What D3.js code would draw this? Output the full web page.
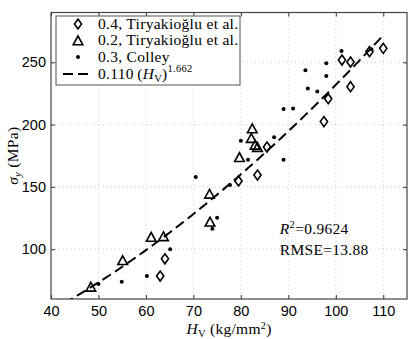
<!DOCTYPE html>
<html>
<head>
<style>
body {margin: 0; background: #fff;}
svg text {font-family: "Liberation Sans", Arial, sans-serif;}
.serif {font-family: "Liberation Serif", "DejaVu Serif", serif;}
</style>
<script src="https://cdnjs.cloudflare.com/ajax/libs/d3/7.8.5/d3.min.js"></script>
</head>
<body>
<div id="chart"></div>
<script>
// 0.4, Tiryakioglu et al. (diamonds)
const diamondHV = [63, 64, 79.5, 83.5, 85.5, 97.5, 98.4, 101.3, 103.1, 103.1, 107.1, 110];
const diamondSy = [78.4, 92.3, 154.8, 159.5, 182, 202.4, 220.8, 251.8, 250.2, 230.4, 258.6, 261.2];
// 0.2, Tiryakioglu et al. (triangles)
const triHV = [48.4, 55.1, 61.1, 63.7, 73.4, 73.5, 79.7, 82.4, 82.2, 83, 83.5];
const triSy = [69.4, 90.7, 109.4, 109.9, 144, 121.6, 173.4, 196.5, 188.8, 183.4, 181.6];
// 0.3, Colley (dots)
const dotHV = [50, 54.9, 60.2, 65.1, 70.5, 74, 75, 77.7, 80, 81.5, 87, 89, 89, 91, 93.6, 94.1, 96.1, 98, 98, 101.2, 107.5];
const dotSy = [72, 73.9, 78.4, 100, 157.9, 116.3, 125.2, 151.5, 187, 171.7, 189.8, 171.7, 212.6, 213, 243.7, 229, 226.6, 249.3, 239, 259, 260.5];
// fit 0.110*(HV)^1.662
const fitA = 0.110, fitB = 1.662;
const fitRange = [40, 110];

const xTicks = [40, 50, 60, 70, 80, 90, 100, 110];
const yTicks = [100, 150, 200, 250];

const W = 415, H = 339;
const margin = {top: 12.5, right: 8, bottom: 40, left: 51};
const width = W - margin.left - margin.right;
const height = H - margin.top - margin.bottom;

const svg = d3.select("#chart").append("svg")
    .attr("width", W).attr("height", H);

svg.append("defs").append("clipPath").attr("id", "clip")
    .append("rect").attr("width", width).attr("height", height);

const g = svg.append("g").attr("transform", `translate(${margin.left},${margin.top})`);

const x = d3.scaleLinear().domain([40, 115]).range([0, width]);
const y = d3.scaleLinear().domain([60, 290]).range([height, 0]);

// grid
g.append("g").selectAll("line").data(xTicks.filter(d => d > 40)).join("line")
    .attr("x1", d => x(d)).attr("x2", d => x(d)).attr("y1", 0).attr("y2", height)
    .attr("stroke", "#bbb").attr("stroke-width", 0.8).attr("stroke-dasharray", "1,3");
g.append("g").selectAll("line").data(yTicks).join("line")
    .attr("y1", d => y(d)).attr("y2", d => y(d)).attr("x1", 0).attr("x2", width)
    .attr("stroke", "#bbb").attr("stroke-width", 0.8).attr("stroke-dasharray", "1,3");

// axes: MATLAB style, inward ticks on all sides
const xAxis = g.append("g").attr("transform", `translate(0,${height})`)
    .call(d3.axisBottom(x).tickValues(xTicks).tickSizeInner(-4).tickSizeOuter(0).tickPadding(7));
const yAxis = g.append("g")
    .call(d3.axisLeft(y).tickValues(yTicks).tickSizeInner(-4).tickSizeOuter(0).tickPadding(5));
const xTop = g.append("g")
    .call(d3.axisTop(x).tickValues(xTicks).tickSizeInner(-4).tickSizeOuter(0).tickFormat(""));
const yRight = g.append("g").attr("transform", `translate(${width},0)`)
    .call(d3.axisRight(y).tickValues(yTicks).tickSizeInner(-4).tickSizeOuter(0).tickFormat(""));
[xAxis, yAxis, xTop, yRight].forEach(a => {
    a.select(".domain").remove();
    a.selectAll(".tick line").attr("stroke", "#333");
    a.selectAll("text").attr("font-size", 14.5).attr("fill", "#000");
});
g.append("rect").attr("width", width).attr("height", height)
    .attr("fill", "none").attr("stroke", "#444").attr("stroke-width", 1.2);

// fit line
const fitData = d3.range(fitRange[0], fitRange[1] + 0.01, 0.5);
g.append("path").datum(fitData)
    .attr("clip-path", "url(#clip)")
    .attr("fill", "none").attr("stroke", "#000").attr("stroke-width", 2)
    .attr("stroke-dasharray", "10,5")
    .attr("d", d3.line().x(d => x(d)).y(d => y(fitA * Math.pow(d, fitB))));

const diamondPath = "M0,-5L3.6,0L0,5L-3.6,0Z";
const triPath = "M0,-5L4.8,3.8L-4.8,3.8Z";

g.append("g").selectAll("path").data(diamondHV).join("path")
    .attr("transform", (d, i) => `translate(${x(d)},${y(diamondSy[i])})`)
    .attr("d", diamondPath).attr("fill", "none").attr("stroke", "#000").attr("stroke-width", 1.6);
g.append("g").selectAll("path").data(triHV).join("path")
    .attr("transform", (d, i) => `translate(${x(d)},${y(triSy[i])})`)
    .attr("d", triPath).attr("fill", "none").attr("stroke", "#000").attr("stroke-width", 1.6);
g.append("g").selectAll("circle").data(dotHV).join("circle")
    .attr("cx", d => x(d)).attr("cy", (d, i) => y(dotSy[i])).attr("r", 2).attr("fill", "#000");

// legend
const leg = svg.append("g").attr("transform", "translate(56,16)");
leg.append("rect").attr("width", 184).attr("height", 69)
    .attr("fill", "#fff").attr("stroke", "#555").attr("stroke-width", 1);
const rowY = [8, 24, 41, 58];
const items = [
    {type: "diamond", label: "0.4, Tiryakioğlu et al."},
    {type: "tri", label: "0.2, Tiryakioğlu et al."},
    {type: "dot", label: "0.3, Colley"},
    {type: "line", label: ""}
];
items.forEach((it, i) => {
    const row = leg.append("g").attr("transform", `translate(0,${rowY[i]})`);
    if (it.type === "diamond") row.append("path").attr("transform", "translate(22,0)").attr("d", diamondPath)
        .attr("fill", "none").attr("stroke", "#000").attr("stroke-width", 1.6);
    if (it.type === "tri") row.append("path").attr("transform", "translate(22,1)").attr("d", triPath)
        .attr("fill", "none").attr("stroke", "#000").attr("stroke-width", 1.6);
    if (it.type === "dot") row.append("circle").attr("cx", 22).attr("r", 2).attr("fill", "#000");
    if (it.type === "line") row.append("line").attr("x1", 7).attr("x2", 33)
        .attr("stroke", "#000").attr("stroke-width", 2).attr("stroke-dasharray", "10,5");
    const t = row.append("text").attr("class", "serif").attr("x", 42).attr("y", 5)
        .attr("font-size", 15.5).attr("letter-spacing", 0.3);
    if (it.type === "line") {
        t.append("tspan").text("0.110\u2009(");
        t.append("tspan").attr("font-style", "italic").text("H");
        t.append("tspan").attr("font-size", 10.5).attr("dy", 3).text("V");
        t.append("tspan").attr("dy", -3).text(")");
        t.append("tspan").attr("font-size", 10.5).attr("dy", -7).text("1.662");
    } else {
        t.text(it.label);
    }
});

// stats
const st = g.append("text").attr("class", "serif").attr("x", x(88.2)).attr("y", y(100) - 15)
    .attr("font-size", 15.5).attr("letter-spacing", 0.3);
st.append("tspan").attr("font-style", "italic").text("R");
st.append("tspan").attr("font-size", 10.5).attr("dy", -6).text("2");
st.append("tspan").attr("dy", 6).text("=0.9624");
g.append("text").attr("class", "serif").attr("x", x(88.2)).attr("y", y(100) + 6)
    .attr("font-size", 15.5).attr("letter-spacing", 0.3).text("RMSE=13.88");

// axis labels
const xl = svg.append("text").attr("class", "serif").attr("x", 229).attr("y", 334)
    .attr("text-anchor", "middle").attr("font-size", 15.5).attr("letter-spacing", 0.3);
xl.append("tspan").attr("font-style", "italic").text("H");
xl.append("tspan").attr("font-size", 10.5).attr("dy", 3).text("V");
xl.append("tspan").attr("dy", -3).text(" (kg/mm");
xl.append("tspan").attr("font-size", 10).attr("dy", -5).text("2");
xl.append("tspan").attr("dy", 5).text(")");

const yl = svg.append("text").attr("class", "serif")
    .attr("transform", `translate(18,${margin.top + height / 2}) rotate(-90)`)
    .attr("text-anchor", "middle").attr("font-size", 15.5).attr("letter-spacing", 0.3);
yl.append("tspan").attr("font-style", "italic").text("σ");
yl.append("tspan").attr("font-style", "italic").attr("font-size", 10.5).attr("dy", 3).text("y");
yl.append("tspan").attr("dy", -3).text(" (MPa)");
</script>
</body>
</html>
